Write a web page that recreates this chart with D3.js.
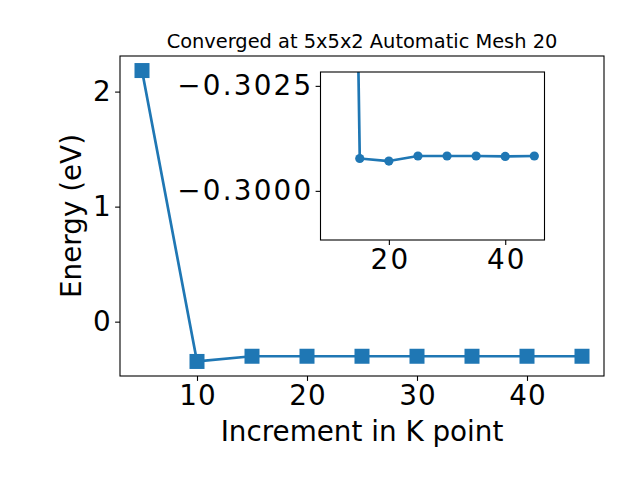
<!DOCTYPE html>
<html><head><meta charset="utf-8">
<script src="https://cdn.jsdelivr.net/npm/d3@7"></script>
<style>
body{margin:0;background:#fff;}
svg{display:block;font-family:"DejaVu Sans",sans-serif;}
</style></head><body>
<svg id="c" width="640" height="480"></svg>
<script>
const kPoints = [5, 10, 15, 20, 25, 30, 35, 40, 45];
const energy = [2.183, -0.346, -0.30077, -0.30071, -0.30083, -0.30083, -0.30083, -0.30082, -0.30083];
const mainXTicks = [10, 20, 30, 40];
const mainYTicks = [0, 1, 2];
const insetXTicks = [20, 40];
const insetYTicks = [-0.3025, -0.3000];
const titleText = "Converged at 5x5x2 Automatic Mesh 20";
const xLabel = "Increment in K point";
const yLabel = "Energy (eV)";

const color = "#1f77b4";
const svg = d3.select("#c");
const fmtMinus = s => s.replace("-", "\u2212");

function styleAxis(g, ls, anchor){
  g.select(".domain").remove();
  g.selectAll("line").attr("stroke","#000").attr("stroke-width",1.1);
  g.selectAll("text").attr("font-size",27.8).attr("fill","#000").attr("font-family","DejaVu Sans")
    .attr("letter-spacing", ls)
    .attr("dx", anchor === "end" ? ls : ls/2);
}

// main axes
const M = {l:120, r:604, t:56, b:376};
const ext = d3.extent(energy), pad = (ext[1]-ext[0])*0.05;
const x = d3.scaleLinear().domain([3, 47]).range([M.l, M.r]);
const y = d3.scaleLinear().domain([ext[0]-pad, ext[1]+pad]).range([M.b, M.t]);

const line = d3.line().x((d,i)=>x(kPoints[i])).y(d=>y(d));
svg.append("path").datum(energy).attr("d", line)
  .attr("fill","none").attr("stroke",color).attr("stroke-width",2.7).attr("stroke-linejoin","round");
svg.selectAll("rect.m").data(energy).enter().append("rect")
  .attr("x",(d,i)=>x(kPoints[i])-7.5).attr("y",d=>y(d)-7.5)
  .attr("width",15).attr("height",15).attr("fill",color);

svg.append("rect").attr("x",M.l).attr("y",M.t).attr("width",M.r-M.l).attr("height",M.b-M.t)
  .attr("fill","none").attr("stroke","#000").attr("stroke-width",1.1);

const gx = svg.append("g").attr("transform",`translate(0,${M.b})`)
  .call(d3.axisBottom(x).tickValues(mainXTicks).tickSize(4.9).tickPadding(4.5));
const gy = svg.append("g").attr("transform",`translate(${M.l},0)`)
  .call(d3.axisLeft(y).tickValues(mainYTicks).tickSize(4.9).tickPadding(4.5).tickFormat(d=>fmtMinus(String(d))));
styleAxis(gx, 1.2, "middle");
styleAxis(gy, 1.2, "end");

svg.append("text").attr("x",(M.l+M.r)/2).attr("y",441).attr("text-anchor","middle")
  .attr("font-size",27.8).text(xLabel);
svg.append("text").attr("transform",`translate(81,${(M.t+M.b)/2}) rotate(-90)`)
  .attr("text-anchor","middle").attr("font-size",27.8).text(yLabel);
svg.append("text").attr("x",(M.l+M.r)/2).attr("y",48).attr("text-anchor","middle")
  .attr("font-size",19.4).text(titleText);

// inset
const I = {l:320.5, r:544.5, t:72, b:240};
const xi = d3.scaleLinear().domain([8.25, 46.75]).range([I.l, I.r]);
const yi = d3.scaleLinear().domain([-0.30283, -0.29883]).range([I.t, I.b]);
svg.append("rect").attr("x",I.l).attr("y",I.t).attr("width",I.r-I.l).attr("height",I.b-I.t).attr("fill","#fff");
svg.append("clipPath").attr("id","ic").append("rect")
  .attr("x",I.l).attr("y",I.t).attr("width",I.r-I.l).attr("height",I.b-I.t);
const gi = svg.append("g").attr("clip-path","url(#ic)");
const iData = energy.slice(1), iK = kPoints.slice(1);
gi.append("path").datum(iData)
  .attr("d", d3.line().x((d,i)=>xi(iK[i])).y(d=>yi(d)))
  .attr("fill","none").attr("stroke",color).attr("stroke-width",2.7).attr("stroke-linejoin","round");
gi.selectAll("circle").data(iData).enter().append("circle")
  .attr("cx",(d,i)=>xi(iK[i])).attr("cy",d=>yi(d)).attr("r",4.6).attr("fill",color);
svg.append("rect").attr("x",I.l).attr("y",I.t).attr("width",I.r-I.l).attr("height",I.b-I.t)
  .attr("fill","none").attr("stroke","#000").attr("stroke-width",1.1);
const gix = svg.append("g").attr("transform",`translate(0,${I.b})`)
  .call(d3.axisBottom(xi).tickValues(insetXTicks).tickSize(4.9).tickPadding(4.5));
const giy = svg.append("g").attr("transform",`translate(${I.l},0)`)
  .call(d3.axisLeft(yi).tickValues(insetYTicks).tickSize(4.9).tickPadding(4.5).tickFormat(d=>fmtMinus(d.toFixed(4))));
styleAxis(gix, 2.2, "middle");
styleAxis(giy, 2.2, "end");
</script>
</body></html>
